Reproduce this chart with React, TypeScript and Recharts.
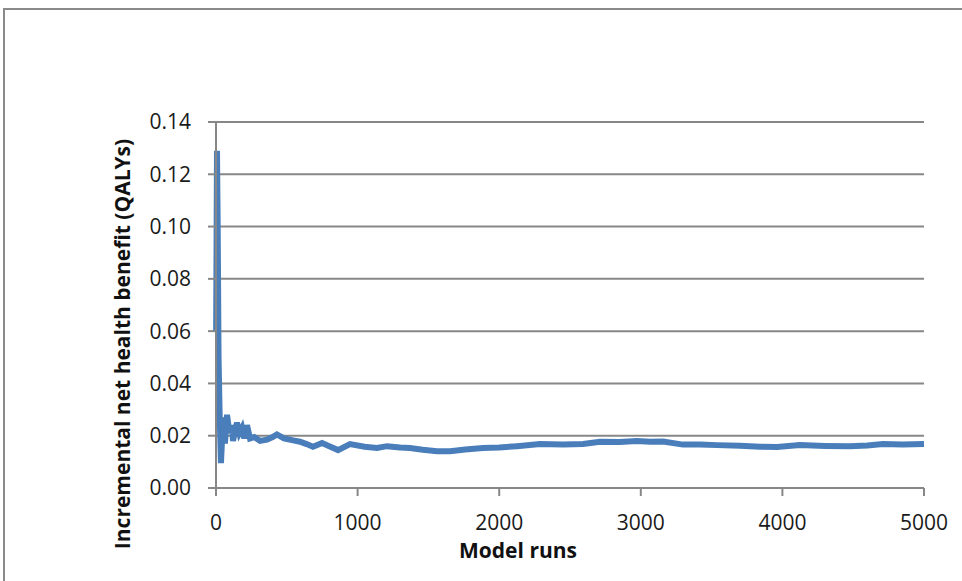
import { LineChart, Line, XAxis, YAxis, CartesianGrid, Label } from 'recharts';

const runs = [
  1, 7, 12, 18, 25, 35, 50, 63, 78, 95, 113, 120, 148, 165, 184, 200, 219, 240, 270, 311,
  360, 400, 430, 480, 545, 593, 640, 685, 749, 800, 862, 946, 1050, 1137, 1208, 1300, 1370,
  1460, 1561, 1653, 1760, 1886, 2000, 2126, 2288, 2450, 2592, 2712, 2850, 2973, 3065, 3157,
  3298, 3418, 3538, 3700, 3842, 3962, 4124, 4300, 4477, 4600, 4710, 4850, 5000,
];

const benefit = [
  0.06, 0.129, 0.1, 0.05, 0.03, 0.0095, 0.027, 0.017, 0.028, 0.021, 0.024, 0.018, 0.025,
  0.021, 0.023, 0.019, 0.024, 0.019, 0.0195, 0.018, 0.0185, 0.0195, 0.0205, 0.019, 0.0182,
  0.0177, 0.0168, 0.0158, 0.0172, 0.016, 0.0145, 0.0168, 0.0158, 0.0153, 0.016, 0.0155,
  0.0153, 0.0146, 0.0141, 0.0141, 0.0147, 0.0153, 0.0155, 0.016, 0.0168, 0.0166, 0.0168,
  0.0177, 0.0176, 0.018, 0.0177, 0.0178, 0.0166, 0.0166, 0.0164, 0.0162, 0.0158, 0.0157,
  0.0164, 0.0161, 0.016, 0.0163, 0.0168, 0.0166, 0.0168,
];

const xTicks = [0, 1000, 2000, 3000, 4000, 5000];
const yTicks = [0, 0.02, 0.04, 0.06, 0.08, 0.1, 0.12, 0.14];

const data = runs.map((r, i) => ({ run: r, value: benefit[i] }));

const GRAY = '#878787';

export default function App() {
  return (
    <div style={{ position: 'fixed', left: 0, top: 0, width: 962, height: 581, overflow: 'hidden', background: '#fff', fontFamily: '"Open Sans", sans-serif' }}>
      <div style={{ position: 'absolute', left: 3, top: 8, width: 980, height: 600, border: '2px solid #8a8a8a', boxSizing: 'border-box' }} />
      <div style={{ position: 'absolute', left: 0, top: 0 }}>
        <LineChart width={962} height={581} data={data} margin={{ top: 122, right: 38, bottom: 0, left: 0 }}>
          <CartesianGrid vertical={false} stroke={GRAY} strokeWidth={2} />
          <XAxis
            type="number"
            dataKey="run"
            domain={[0, 5000]}
            ticks={xTicks}
            height={93}
            tickSize={8}
            tickMargin={19}
            stroke={GRAY}
            strokeWidth={2}
            tick={{ fill: '#1a1a1a', fontSize: 21 }}
          >
            <Label
              content={() => (
                <text x={518} y={558} textAnchor="middle" fontSize={21} fontWeight="bold" fill="#111">
                  Model runs
                </text>
              )}
            />
          </XAxis>
          <YAxis
            type="number"
            domain={[0, 0.14]}
            ticks={yTicks}
            width={216}
            tickSize={8}
            tickMargin={17}
            stroke={GRAY}
            strokeWidth={2}
            tickFormatter={(v: number) => v.toFixed(2)}
            tick={{ fill: '#1a1a1a', fontSize: 21 }}
          >
            <Label
              content={() => (
                <text transform="translate(130,344) rotate(-90)" textAnchor="middle" fontSize={21} fontWeight="bold" fill="#111">
                  Incremental net health benefit (QALYs)
                </text>
              )}
            />
          </YAxis>
          <Line
            type="linear"
            dataKey="value"
            stroke="#4a7ebb"
            strokeWidth={6}
            dot={false}
            isAnimationActive={false}
          />
        </LineChart>
      </div>
    </div>
  );
}
